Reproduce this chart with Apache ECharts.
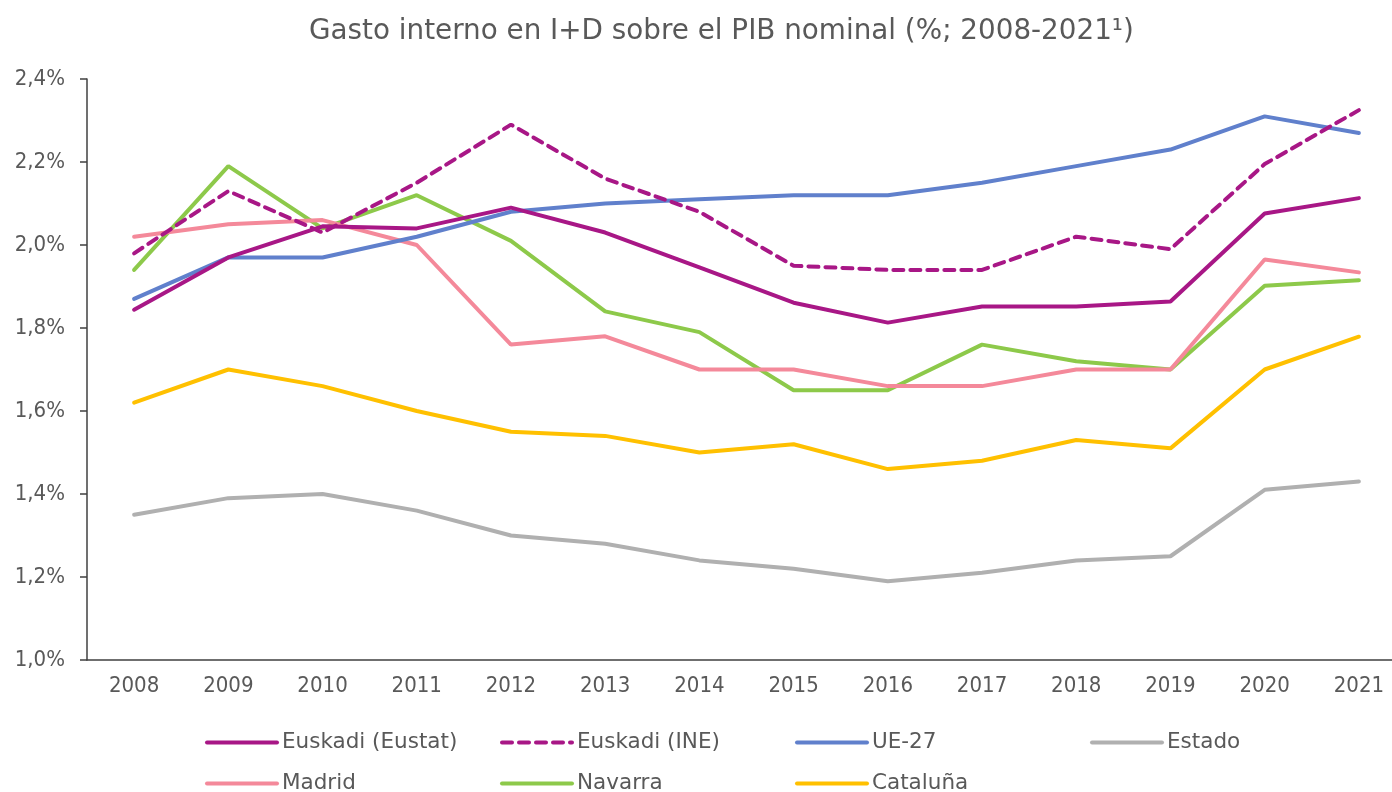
<!DOCTYPE html>
<html>
<head>
<meta charset="utf-8">
<script src="https://cdn.jsdelivr.net/npm/echarts@6/dist/echarts.min.js"></script>
<style>
  html, body { margin: 0; padding: 0; background: #fff; overflow: hidden; }
  #chart { width: 1406px; height: 792px; }
</style>
</head>
<body>
<div id="chart"></div>
<script>
var years = ['2008', '2009', '2010', '2011', '2012', '2013', '2014', '2015', '2016', '2017', '2018', '2019', '2020', '2021'];

var euskadiEustat = [1.844, 1.970, 2.045, 2.040, 2.090, 2.030, 1.946, 1.861, 1.813, 1.852, 1.852, 1.864, 2.076, 2.113];
var euskadiIne = [1.98, 2.13, 2.03, 2.15, 2.29, 2.16, 2.08, 1.95, 1.94, 1.94, 2.02, 1.99, 2.195, 2.325];
var ue27 = [1.87, 1.97, 1.97, 2.02, 2.08, 2.10, 2.11, 2.12, 2.12, 2.15, 2.19, 2.23, 2.31, 2.27];
var estado = [1.35, 1.39, 1.40, 1.36, 1.30, 1.28, 1.24, 1.22, 1.19, 1.21, 1.24, 1.25, 1.41, 1.43];
var madrid = [2.02, 2.05, 2.06, 2.00, 1.76, 1.78, 1.70, 1.70, 1.66, 1.66, 1.70, 1.70, 1.965, 1.934];
var navarra = [1.94, 2.19, 2.04, 2.12, 2.01, 1.84, 1.79, 1.65, 1.65, 1.76, 1.72, 1.70, 1.902, 1.915];
var cataluna = [1.62, 1.70, 1.66, 1.60, 1.55, 1.54, 1.50, 1.52, 1.46, 1.48, 1.53, 1.51, 1.70, 1.779];

var narrowFont = "'DejaVu Sans Condensed', 'DejaVu Sans', sans-serif";
var wideFont = "'DejaVu Sans', sans-serif";
var textColor = '#595959';

function lineSeries(name, data, color, dashed) {
    return {
        name: name,
        type: 'line',
        data: data,
        symbol: 'none',
        lineStyle: { color: color, width: 4, type: dashed ? [10, 7] : 'solid', cap: 'round' },
        itemStyle: { color: color }
    };
}

// the plot runs a little past the right edge of the window, so the canvas is wider
var myChart = echarts.init(document.getElementById('chart'));

var option = {
    animation: false,
    backgroundColor: '#fff',
    title: {
        text: 'Gasto interno en I+D sobre el PIB nominal (%; 2008-2021¹)',
        left: 304,
        top: 13,
        textStyle: { fontFamily: wideFont, fontSize: 27.8, fontWeight: 'normal', color: textColor }
    },
    grid: { left: 87, right: 0, top: 79, bottom: 132 },
    legend: {
        left: 205,
        top: 722,
        width: 1180,
        padding: 0,
        itemWidth: 70,
        itemHeight: 14,
        itemGap: 0,
        itemStyle: { color: 'rgba(0,0,0,0)', borderWidth: 0, opacity: 0 },
        lineStyle: { width: 4, cap: 'round' },
        textStyle: { fontFamily: wideFont, fontSize: 21.5, color: textColor, width: 218, lineHeight: 41 },
        data: ['Euskadi (Eustat)', 'Euskadi (INE)', 'UE-27', 'Estado', 'Madrid', 'Navarra', 'Cataluña']
    },
    xAxis: {
        type: 'category',
        data: years,
        boundaryGap: true,
        axisLine: { lineStyle: { color: '#404040', width: 1.5 } },
        axisTick: { alignWithLabel: true, length: 5, lineStyle: { color: '#404040', width: 1.5 } },
        axisLabel: { color: textColor, fontSize: 22, margin: 15, fontFamily: narrowFont },
        splitLine: { show: false }
    },
    yAxis: {
        type: 'value',
        min: 1.0,
        max: 2.4,
        interval: 0.2,
        axisLine: { show: true, lineStyle: { color: '#404040', width: 1.5 } },
        axisTick: { show: true, length: 7, lineStyle: { color: '#404040', width: 1.5 } },
        axisLabel: {
            color: textColor, fontSize: 22, margin: 22, fontFamily: narrowFont,
            formatter: function (v) { return v.toFixed(1).replace('.', ',') + '%'; }
        },
        splitLine: { show: false }
    },
    series: [
        lineSeries('Estado', estado, '#B0B0B0'),
        lineSeries('Cataluña', cataluna, '#FFC000'),
        lineSeries('Navarra', navarra, '#8DC94A'),
        lineSeries('Madrid', madrid, '#F4899A'),
        lineSeries('UE-27', ue27, '#6080CC'),
        lineSeries('Euskadi (INE)', euskadiIne, '#A81786', true),
        lineSeries('Euskadi (Eustat)', euskadiEustat, '#A81786')
    ]
};

myChart.setOption(option);
</script>
</body>
</html>
